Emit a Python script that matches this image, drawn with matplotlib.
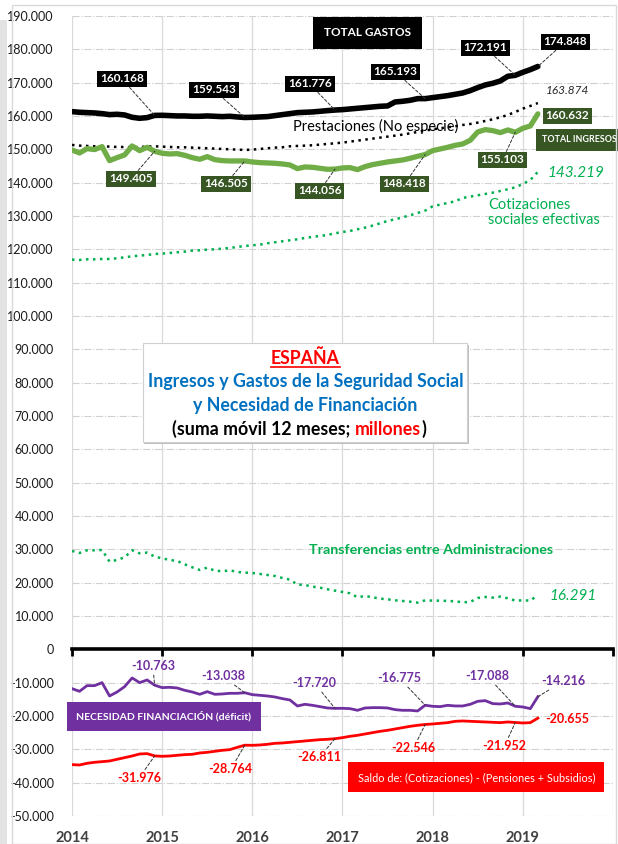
import numpy as np
import matplotlib.pyplot as plt
from matplotlib.patches import Rectangle
from matplotlib.ticker import FuncFormatter

plt.rcParams['font.family'] = ['Lato', 'DejaVu Sans']

# monthly data, Jan 2014 - Mar 2019 (12-month rolling sums, thousands of millions)
dates = 2014 + np.arange(63) / 12
years = [2014, 2015, 2016, 2017, 2018, 2019, 2020]

total_gastos = [161.3, 161.1, 161.0, 160.9, 160.7, 160.4, 160.5, 160.3, 159.6, 159.3, 159.5, 160.168,
                160.2, 160.1, 160.0, 160.0, 159.9, 159.9, 160.0, 159.9, 159.8, 159.9, 159.7, 159.543,
                159.6, 159.7, 159.8, 160.1, 160.4, 160.7, 161.0, 161.1, 161.2, 161.4, 161.6, 161.776,
                161.9, 162.1, 162.3, 162.5, 162.7, 162.9, 163.0, 164.2, 164.4, 164.7, 165.2, 165.193,
                165.5, 165.8, 166.1, 166.5, 166.9, 167.6, 168.5, 169.3, 169.8, 170.5, 171.9, 172.191,
                173.1, 173.9, 174.848]
prestaciones = [151.3, 151.1, 151.0, 150.9, 150.9, 150.8, 150.7, 150.7, 150.6, 150.7, 150.8, 150.9,
                150.8, 150.7, 150.6, 150.6, 150.5, 150.4, 150.3, 150.2, 150.1, 150.0, 149.9, 149.8,
                149.9, 150.1, 150.3, 150.5, 150.6, 150.9, 151.0, 151.1, 151.2, 151.4, 151.6, 151.8,
                152.0, 152.3, 152.6, 152.9, 153.2, 153.5, 153.8, 154.1, 154.4, 154.8, 155.2, 155.6,
                156.0, 156.3, 156.6, 156.9, 157.3, 157.6, 158.0, 158.5, 159.0, 159.6, 160.3, 161.2,
                162.2, 163.0, 163.874]
total_ingresos = [149.8, 148.9, 150.2, 149.9, 150.8, 146.6, 147.5, 148.3, 151.0, 149.6, 150.6, 149.405,
                  148.8, 148.6, 148.7, 148.2, 147.5, 147.0, 147.8, 146.9, 146.6, 146.5, 146.5, 146.505,
                  146.2, 146.0, 145.9, 145.8, 145.6, 145.3, 144.2, 144.7, 144.6, 144.3, 144.0, 144.056,
                  144.4, 144.5, 143.9, 144.8, 145.4, 145.8, 146.2, 146.5, 146.8, 147.3, 147.9, 148.418,
                  149.6, 150.1, 150.6, 151.2, 151.6, 152.7, 155.2, 155.9, 155.6, 155.0, 155.8, 155.103,
                  156.3, 157.0, 160.632]
cotizaciones = [116.9, 116.8, 117.0, 117.0, 117.1, 117.1, 117.3, 117.6, 117.9, 118.1, 118.3, 118.6,
                118.7, 118.9, 119.1, 119.3, 119.6, 119.7, 119.9, 120.0, 120.2, 120.4, 120.7, 121.0,
                121.2, 121.4, 121.8, 122.1, 122.4, 122.7, 123.0, 123.4, 123.7, 124.0, 124.3, 124.8,
                125.2, 125.5, 126.0, 126.5, 127.1, 127.8, 128.5, 129.0, 129.6, 130.2, 130.9, 131.6,
                132.9, 133.4, 133.9, 134.4, 135.4, 135.8, 136.2, 136.6, 137.0, 137.5, 138.0, 138.6,
                139.6, 140.8, 143.219]
transferencias = [29.5, 28.9, 29.7, 29.7, 29.8, 26.3, 26.8, 27.6, 29.7, 28.8, 29.0, 27.8,
                  27.3, 26.8, 26.5, 25.5, 24.6, 23.8, 24.5, 23.6, 23.4, 23.7, 23.2, 23.0,
                  22.9, 22.6, 22.3, 22.0, 21.4, 20.9, 19.4, 19.3, 18.8, 18.5, 18.0, 17.6,
                  17.2, 16.8, 15.6, 16.0, 15.6, 15.2, 15.0, 14.7, 14.5, 14.3, 14.0, 14.7,
                  14.6, 14.6, 14.5, 14.4, 14.1, 14.2, 15.4, 15.7, 15.5, 15.8, 15.3, 14.6,
                  14.7, 14.6, 16.291]
necesidad = [-11.8, -12.6, -10.9, -10.9, -10.0, -14.0, -12.8, -11.2, -8.6, -10.0, -9.2, -10.763,
             -11.5, -11.4, -11.6, -12.3, -12.8, -13.5, -12.7, -13.5, -13.4, -13.2, -13.2, -13.038,
             -13.6, -13.8, -14.0, -14.3, -14.8, -15.2, -17.0, -16.5, -16.8, -17.2, -17.6, -17.720,
             -17.7, -17.8, -18.3, -17.6, -17.5, -17.5, -17.6, -18.1, -18.3, -18.3, -18.5, -16.775,
             -17.1, -17.2, -16.8, -17.0, -17.0, -16.5, -15.6, -15.4, -16.3, -16.4, -16.1, -17.088,
             -17.3, -17.8, -14.216]
saldo = [-34.6, -34.7, -34.2, -33.9, -33.7, -33.5, -33.0, -32.5, -32.0, -31.4, -31.3, -31.976,
         -32.1, -32.0, -31.8, -31.6, -31.5, -31.1, -30.9, -30.6, -30.3, -30.1, -29.4, -28.764,
         -28.8, -28.7, -28.5, -28.2, -28.1, -27.9, -27.7, -27.5, -27.3, -27.1, -27.0, -26.811,
         -26.5, -26.1, -25.8, -25.4, -25.0, -24.6, -24.3, -23.9, -23.5, -23.1, -22.8, -22.546,
         -22.4, -22.2, -22.0, -21.6, -21.5, -21.6, -21.7, -21.8, -21.9, -22.0, -21.8, -21.952,
         -22.1, -22.0, -20.655]

# indices of the labelled months (December of each year + last month)
dec_idx = [11, 23, 35, 47, 59]
last = 62

fig = plt.figure(figsize=(6.18, 8.44), dpi=100)
ax = fig.add_axes([0.1165, 0.0332, 0.8754, 0.9479])

# chart frame and left shadow
fig.patches.append(Rectangle((0.019, 0.0), 0.978, 0.994, transform=fig.transFigure,
                             fill=False, ec='#d9d9d9', lw=1))
fig.patches.append(Rectangle((0.0, 0.0), 0.012, 0.976, transform=fig.transFigure,
                             fc='#e3e3e3', ec='none'))

ax.set_xlim(2014, 2020)
ax.set_ylim(-50, 190)
ax.set_yticks(np.arange(-50, 191, 10))
ax.yaxis.set_major_formatter(FuncFormatter(lambda v, p: '0' if abs(v) < 1e-9 else f'{v:.3f}'))
ax.tick_params(axis='y', length=0, labelsize=9, labelcolor='#1a1a1a', pad=13)

for yv in np.arange(-50, 191, 10):
    if yv != 0:
        ax.axhline(yv, color='#d0d0d0', lw=0.8, ls='-.', zorder=0)
for yr in years:
    ax.axvline(yr, color='#d9d9d9', lw=0.9, zorder=0)

for s in ['left', 'right', 'top']:
    ax.spines[s].set_visible(False)
ax.spines['bottom'].set_position(('data', 0))
ax.spines['bottom'].set_linewidth(2.6)
ax.spines['bottom'].set_zorder(3)
ax.set_xticks(years)
ax.tick_params(axis='x', direction='out', length=5, width=2, labelbottom=False)

sec = ax.secondary_xaxis('bottom')
sec.set_xticks(years[:-1])
sec.set_xticklabels([str(y) for y in years[:-1]], fontweight='bold', fontsize=10.5, color='#404040')
sec.tick_params(length=0, pad=11)
sec.spines['bottom'].set_visible(False)

# series
ax.plot(dates, total_gastos, color='black', lw=4, solid_capstyle='round', zorder=4)
ax.plot(dates, prestaciones, color='black', lw=1.8, ls=(0, (1, 1.8)), zorder=4)
ax.plot(dates, total_ingresos, color='#70AD47', lw=3.8, solid_capstyle='round', zorder=4)
ax.plot(dates, cotizaciones, color='#00B050', lw=1.8, ls=(0, (1, 1.8)), zorder=4)
ax.plot(dates, transferencias, color='#00B050', lw=1.8, ls=(0, (1, 1.8)), zorder=4)
ax.plot(dates, necesidad, color='#7030A0', lw=2, zorder=4)
ax.plot(dates, saldo, color='#FF0000', lw=2, zorder=4)

lead = dict(arrowstyle='-', ls=(0, (3, 2)), lw=0.7, color='#333333', shrinkA=0, shrinkB=0)


def box_label(i, series, pos, fc, fs=8.5):
    ax.annotate(f'{series[i]:.3f}', xy=(dates[i], series[i]), xytext=pos,
                ha='center', va='center', fontsize=fs, fontweight='bold', color='white',
                bbox=dict(boxstyle='square,pad=0.25', fc=fc, ec='none'),
                arrowprops=lead, zorder=6)


def plain_label(i, series, pos, color, leader=True):
    ax.annotate(f'{series[i]:.3f}', xy=(dates[i], series[i]), xytext=pos,
                ha='center', va='center', fontsize=9, fontweight='bold', color=color,
                arrowprops=lead if leader else None, zorder=6)


gastos_pos = [(2014.554, 171.1), (2015.572, 167.8), (2016.636, 169.6), (2017.588, 173.2), (2018.585, 180.4)]
for i, p in zip(dec_idx, gastos_pos):
    box_label(i, total_gastos, p, 'black')
box_label(last, total_gastos, (2019.471, 182.2), 'black')

ingresos_pos = [(2014.653, 141.1), (2015.705, 139.6), (2016.746, 137.5), (2017.688, 139.6), (2018.773, 146.8)]
for i, p in zip(dec_idx, ingresos_pos):
    box_label(i, total_ingresos, p, '#375623')
ax.text(2019.493, 160.0, f'{total_ingresos[last]:.3f}', ha='center', va='center', fontsize=8.5,
        fontweight='bold', color='white', bbox=dict(boxstyle='square,pad=0.25', fc='#375623', ec='none'),
        zorder=6)

nec_pos = [(2014.897, -5.1), (2015.672, -8.1), (2016.691, -10.2), (2017.632, -8.7), (2018.607, -8.1)]
for i, p in zip(dec_idx, nec_pos):
    plain_label(i, necesidad, p, '#7030A0')
plain_label(last, necesidad, (2019.449, -9.6), '#7030A0')

saldo_pos = [(2014.742, -38.7), (2015.761, -36.0), (2016.746, -32.4), (2017.787, -29.7), (2018.795, -29.1)]
for i, p in zip(dec_idx, saldo_pos):
    plain_label(i, saldo, p, '#FF0000')
plain_label(last, saldo, (2019.493, -21.0), '#FF0000', leader=False)

# series names
ax.text(2017.278, 184.9, 'TOTAL GASTOS', ha='center', va='center', fontsize=8.5, fontweight='bold',
        color='white', bbox=dict(boxstyle='square,pad=0.9', fc='black', ec='none'), zorder=6)
ax.text(2019.493, 167.5, f'{prestaciones[last]:.3f}', ha='center', va='center', fontsize=8.5,
        style='italic', color='#262626', zorder=6)
ax.text(2017.367, 156.7, 'Prestaciones (No especie)', ha='center', va='center', fontsize=10.5,
        color='black', zorder=6)
ax.text(2019.215, 152.8, 'TOTAL INGRESOS', ha='left', va='center', fontsize=6.4, fontweight='bold',
        color='white', bbox=dict(boxstyle='square,pad=0.7', fc='#375623', ec='none'), zorder=6)
ax.text(2019.59, 142.9, f'{cotizaciones[last]:.3f}', ha='center', va='center', fontsize=11,
        style='italic', color='#00B050', zorder=6)
ax.text(2018.618, 131.0, 'Cotizaciones\nsociales efectivas', ha='left', va='center', fontsize=10.5,
        color='#00B050', linespacing=1.15, zorder=6)
ax.text(2017.987, 29.7, 'Transferencias entre Administraciones', ha='center', va='center',
        fontsize=10.3, fontweight='bold', color='#00B050', zorder=6)
ax.text(2019.559, 15.9, f'{transferencias[last]:.3f}', ha='center', va='center', fontsize=11,
        style='italic', color='#00B050', zorder=6)
ax.text(2015.019, -20.1, 'NECESIDAD FINANCIACIÓN (déficit)', ha='center', va='center', fontsize=7.5,
        fontweight='bold', color='white', bbox=dict(boxstyle='square,pad=0.9', fc='#7030A0', ec='none'),
        zorder=6)
ax.text(2018.485, -38.4, 'Saldo de: (Cotizaciones) - (Pensiones + Subsidios)', ha='center', va='center',
        fontsize=7.9, color='white', bbox=dict(boxstyle='square,pad=0.85', fc='#FF0000', ec='none'),
        zorder=6)

# title box
ax.add_patch(Rectangle((2014.80, 61.7), 3.60, 29.7, fc='#bfbfbf', ec='none', zorder=7))
ax.add_patch(Rectangle((2014.786, 62.3), 3.60, 29.7, fc='white', ec='#d0d0d0', lw=0.8, zorder=8))
ax.text(2016.591, 87.5, 'ESPAÑA', ha='center', va='center', fontsize=12.8, fontweight='bold',
        color='#FF0000', zorder=9)
ax.plot([2016.21, 2016.97], [84.8, 84.8], color='#FF0000', lw=1.2, zorder=9)
ax.text(2016.591, 80.3, 'Ingresos y Gastos de la Seguridad Social', ha='center', va='center',
        fontsize=12.8, fontweight='bold', color='#0070C0', zorder=9)
ax.text(2016.591, 73.1, 'y Necesidad de Financiación', ha='center', va='center',
        fontsize=12.8, fontweight='bold', color='#0070C0', zorder=9)
t1 = ax.text(2015.11, 66.2, '(suma móvil 12 meses; ', ha='left', va='center', fontsize=12.8,
             fontweight='bold', color='black', zorder=9)
t2 = ax.annotate('millones', xy=(1, 0), xycoords=t1, ha='left', va='bottom', fontsize=12.8,
                 fontweight='bold', color='#FF0000', zorder=9)
ax.annotate(')', xy=(1, 0), xycoords=t2, ha='left', va='bottom', fontsize=12.8,
            fontweight='bold', color='black', zorder=9)

fig.savefig('out.png', dpi=100)
